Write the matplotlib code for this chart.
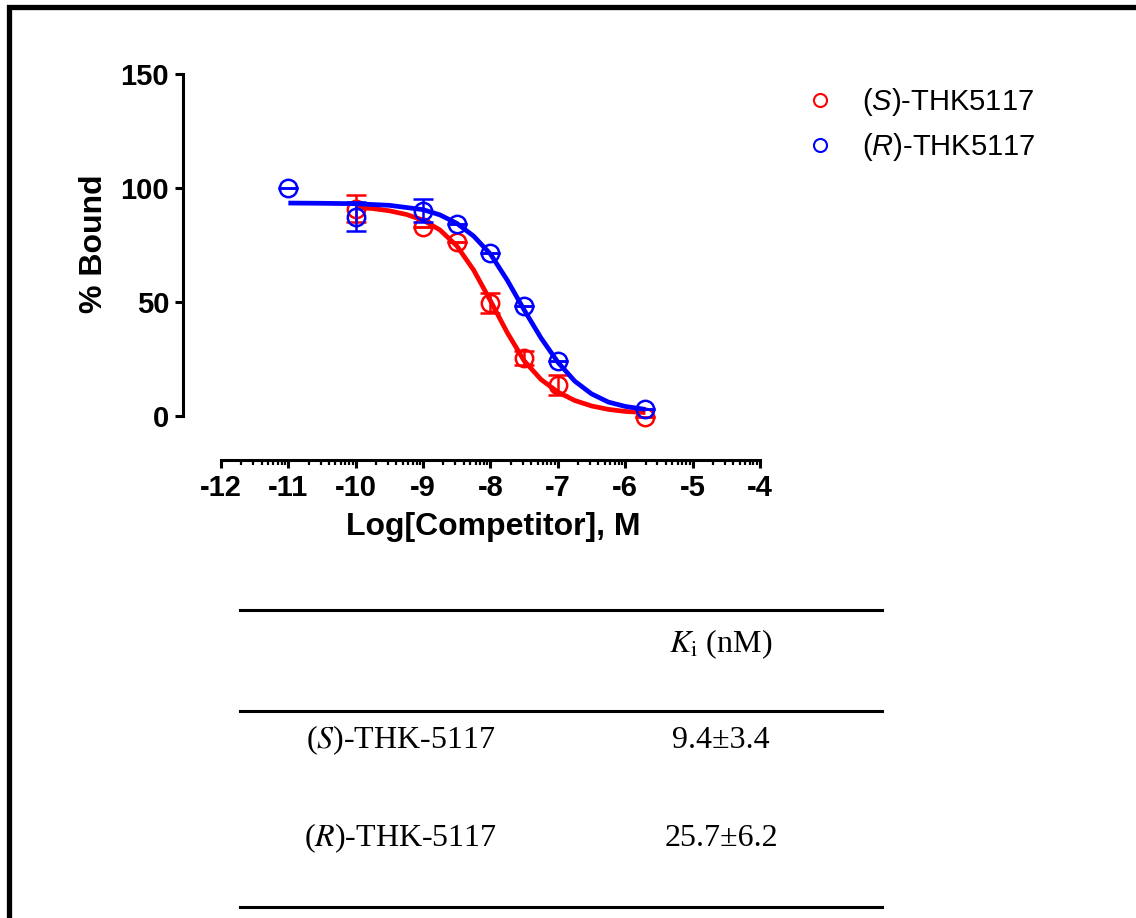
import math
import matplotlib
matplotlib.use("Agg")
import matplotlib.pyplot as plt
from matplotlib.lines import Line2D
from matplotlib.ticker import FixedLocator

# measured points (log M, % bound, sem)
s_logc = [-10, -9, -8.5, -8, -7.5, -7, -5.7]
s_bound = [91.0, 83.0, 76.2, 49.4, 25.3, 13.6, -0.5]
s_err = [5.9, 0, 0, 4.4, 3.1, 4.5, 0]

r_logc = [-11, -10, -9, -8.5, -8, -7.5, -7, -5.7]
r_bound = [100.0, 87.4, 90.0, 84.1, 71.6, 48.2, 24.3, 3.0]
r_err = [0, 6.4, 5.0, 0, 0, 0, 0, 0]

# fitted curves
s_fit_x = [-10, -9.75, -9.5, -9.25, -9, -8.75, -8.5, -8.25, -8, -7.75, -7.5, -7.25, -7, -6.75, -6.5, -6.25, -6, -5.7]
s_fit_y = [91.5, 91.0, 90.0, 88.4, 85.9, 81.6, 74.6, 64.0, 50.5, 36.5, 24.2, 16.0, 10.5, 6.8, 4.4, 2.9, 2.0, 1.5]
r_fit_x = [-11, -10.5, -10, -9.5, -9, -8.75, -8.5, -8.25, -8, -7.75, -7.5, -7.25, -7, -6.75, -6.5, -6.25, -6, -5.7]
r_fit_y = [93.4, 93.3, 93.1, 92.4, 90.5, 88.2, 84.5, 78.9, 71.0, 59.5, 46.5, 34.2, 23.6, 15.3, 9.7, 6.1, 4.2, 2.9]

legend_labels = ['($S$)-THK5117', '($R$)-THK5117']

# Ki table
table_header = r'$K_{\mathrm{i}}$ (nM)'
table_names = ['($S$)-THK-5117', '($R$)-THK-5117']
table_ki = ['9.4\u00b13.4', '25.7\u00b16.2']

W, H = 1136, 918
plt.rcParams['font.family'] = ['Liberation Sans', 'DejaVu Sans']
plt.rcParams['axes.unicode_minus'] = False
plt.rcParams['mathtext.fontset'] = 'custom'
plt.rcParams['mathtext.rm'] = 'Liberation Sans'
plt.rcParams['mathtext.it'] = 'Liberation Sans:italic'

fig = plt.figure(figsize=(W / 100, H / 100), dpi=100)


def fx(x):
    return x / W


def fy(y):
    return 1 - y / H


ax = fig.add_axes([fx(183), fy(460), fx(760) - fx(183), fy(74) - fy(460)])
ax.set_xlim(-12 - 38 / 67.375, -4)
ax.set_ylim(-44 / 2.28, 150)

red = '#ff0000'
blue = '#0000ff'

ax.plot(s_fit_x, s_fit_y, color=red, lw=3.4, zorder=2, solid_capstyle='butt')
ax.errorbar(s_logc, s_bound, yerr=s_err, fmt='none', ecolor=red, elinewidth=1.8,
            capsize=7, capthick=1.8, zorder=3)
hs, = ax.plot(s_logc, s_bound, 'o', mfc='none', mec=red, ms=12.5, mew=1.8, zorder=3)

ax.plot(r_fit_x, r_fit_y, color=blue, lw=3.4, zorder=4, solid_capstyle='butt')
ax.errorbar(r_logc, r_bound, yerr=r_err, fmt='none', ecolor=blue, elinewidth=1.8,
            capsize=7, capthick=1.8, zorder=5)
hr, = ax.plot(r_logc, r_bound, 'o', mfc='none', mec=blue, ms=12.5, mew=1.8, zorder=5)

# GraphPad style offset axes
for side in ['top', 'right']:
    ax.spines[side].set_visible(False)
ax.spines['left'].set_bounds(0, 150)
ax.spines['bottom'].set_bounds(-12, -4)
ax.spines['left'].set_linewidth(2.2)
ax.spines['bottom'].set_linewidth(2.2)

ax.set_yticks([0, 50, 100, 150])
ax.set_xticks(range(-12, -3))
minor = []
for dec in range(-12, -4):
    for k in range(2, 10):
        minor.append(dec + math.log10(k))
ax.xaxis.set_minor_locator(FixedLocator(minor))
ax.tick_params(which='major', length=6, width=2.2, labelsize=21, pad=4)
ax.tick_params(which='minor', length=3.5, width=1.6)
for lab in ax.get_xticklabels() + ax.get_yticklabels():
    lab.set_fontweight('bold')

fig.text(fx(94), fy(244), '% Bound', rotation=90, ha='center', va='center',
         fontsize=23, fontweight='bold')
fig.text(fx(493), fy(527), 'Log[Competitor], M', ha='center', va='center',
         fontsize=23, fontweight='bold')

leg = fig.legend([hs, hr], legend_labels, loc='upper left',
                 bbox_to_anchor=(fx(802.5), fy(86.5)), frameon=False, fontsize=21,
                 handletextpad=0.84, labelspacing=0.42, markerscale=0.75,
                 handlelength=1.2, borderpad=0, borderaxespad=0)
for h in leg.legend_handles:
    h.set_markeredgewidth(1.5)

# table below the graph
for yl in [610, 711, 907]:
    fig.add_artist(Line2D([fx(240), fx(882)], [fy(yl), fy(yl)], color='black', lw=2.2))
serif = ['Liberation Serif', 'DejaVu Serif']
fig.text(fx(721), fy(644), table_header, ha='center', va='center', fontsize=23,
         family=serif, math_fontfamily='stix')
row_y = [740, 838]
for name, ki, yy in zip(table_names, table_ki, row_y):
    fig.text(fx(401), fy(yy), name, ha='center', va='center', fontsize=23,
             family=serif, math_fontfamily='stix')
    fig.text(fx(721), fy(yy), ki, ha='center', va='center', fontsize=23, family=serif)

# outer frame (right and bottom edges cut off in the original)
fig.add_artist(Line2D([fx(9), fx(9), fx(W + 10)], [fy(H + 10), fy(6.5), fy(6.5)],
                      color='black', lw=3.8, solid_joinstyle='miter'))

fig.savefig('out.png', dpi=100)
